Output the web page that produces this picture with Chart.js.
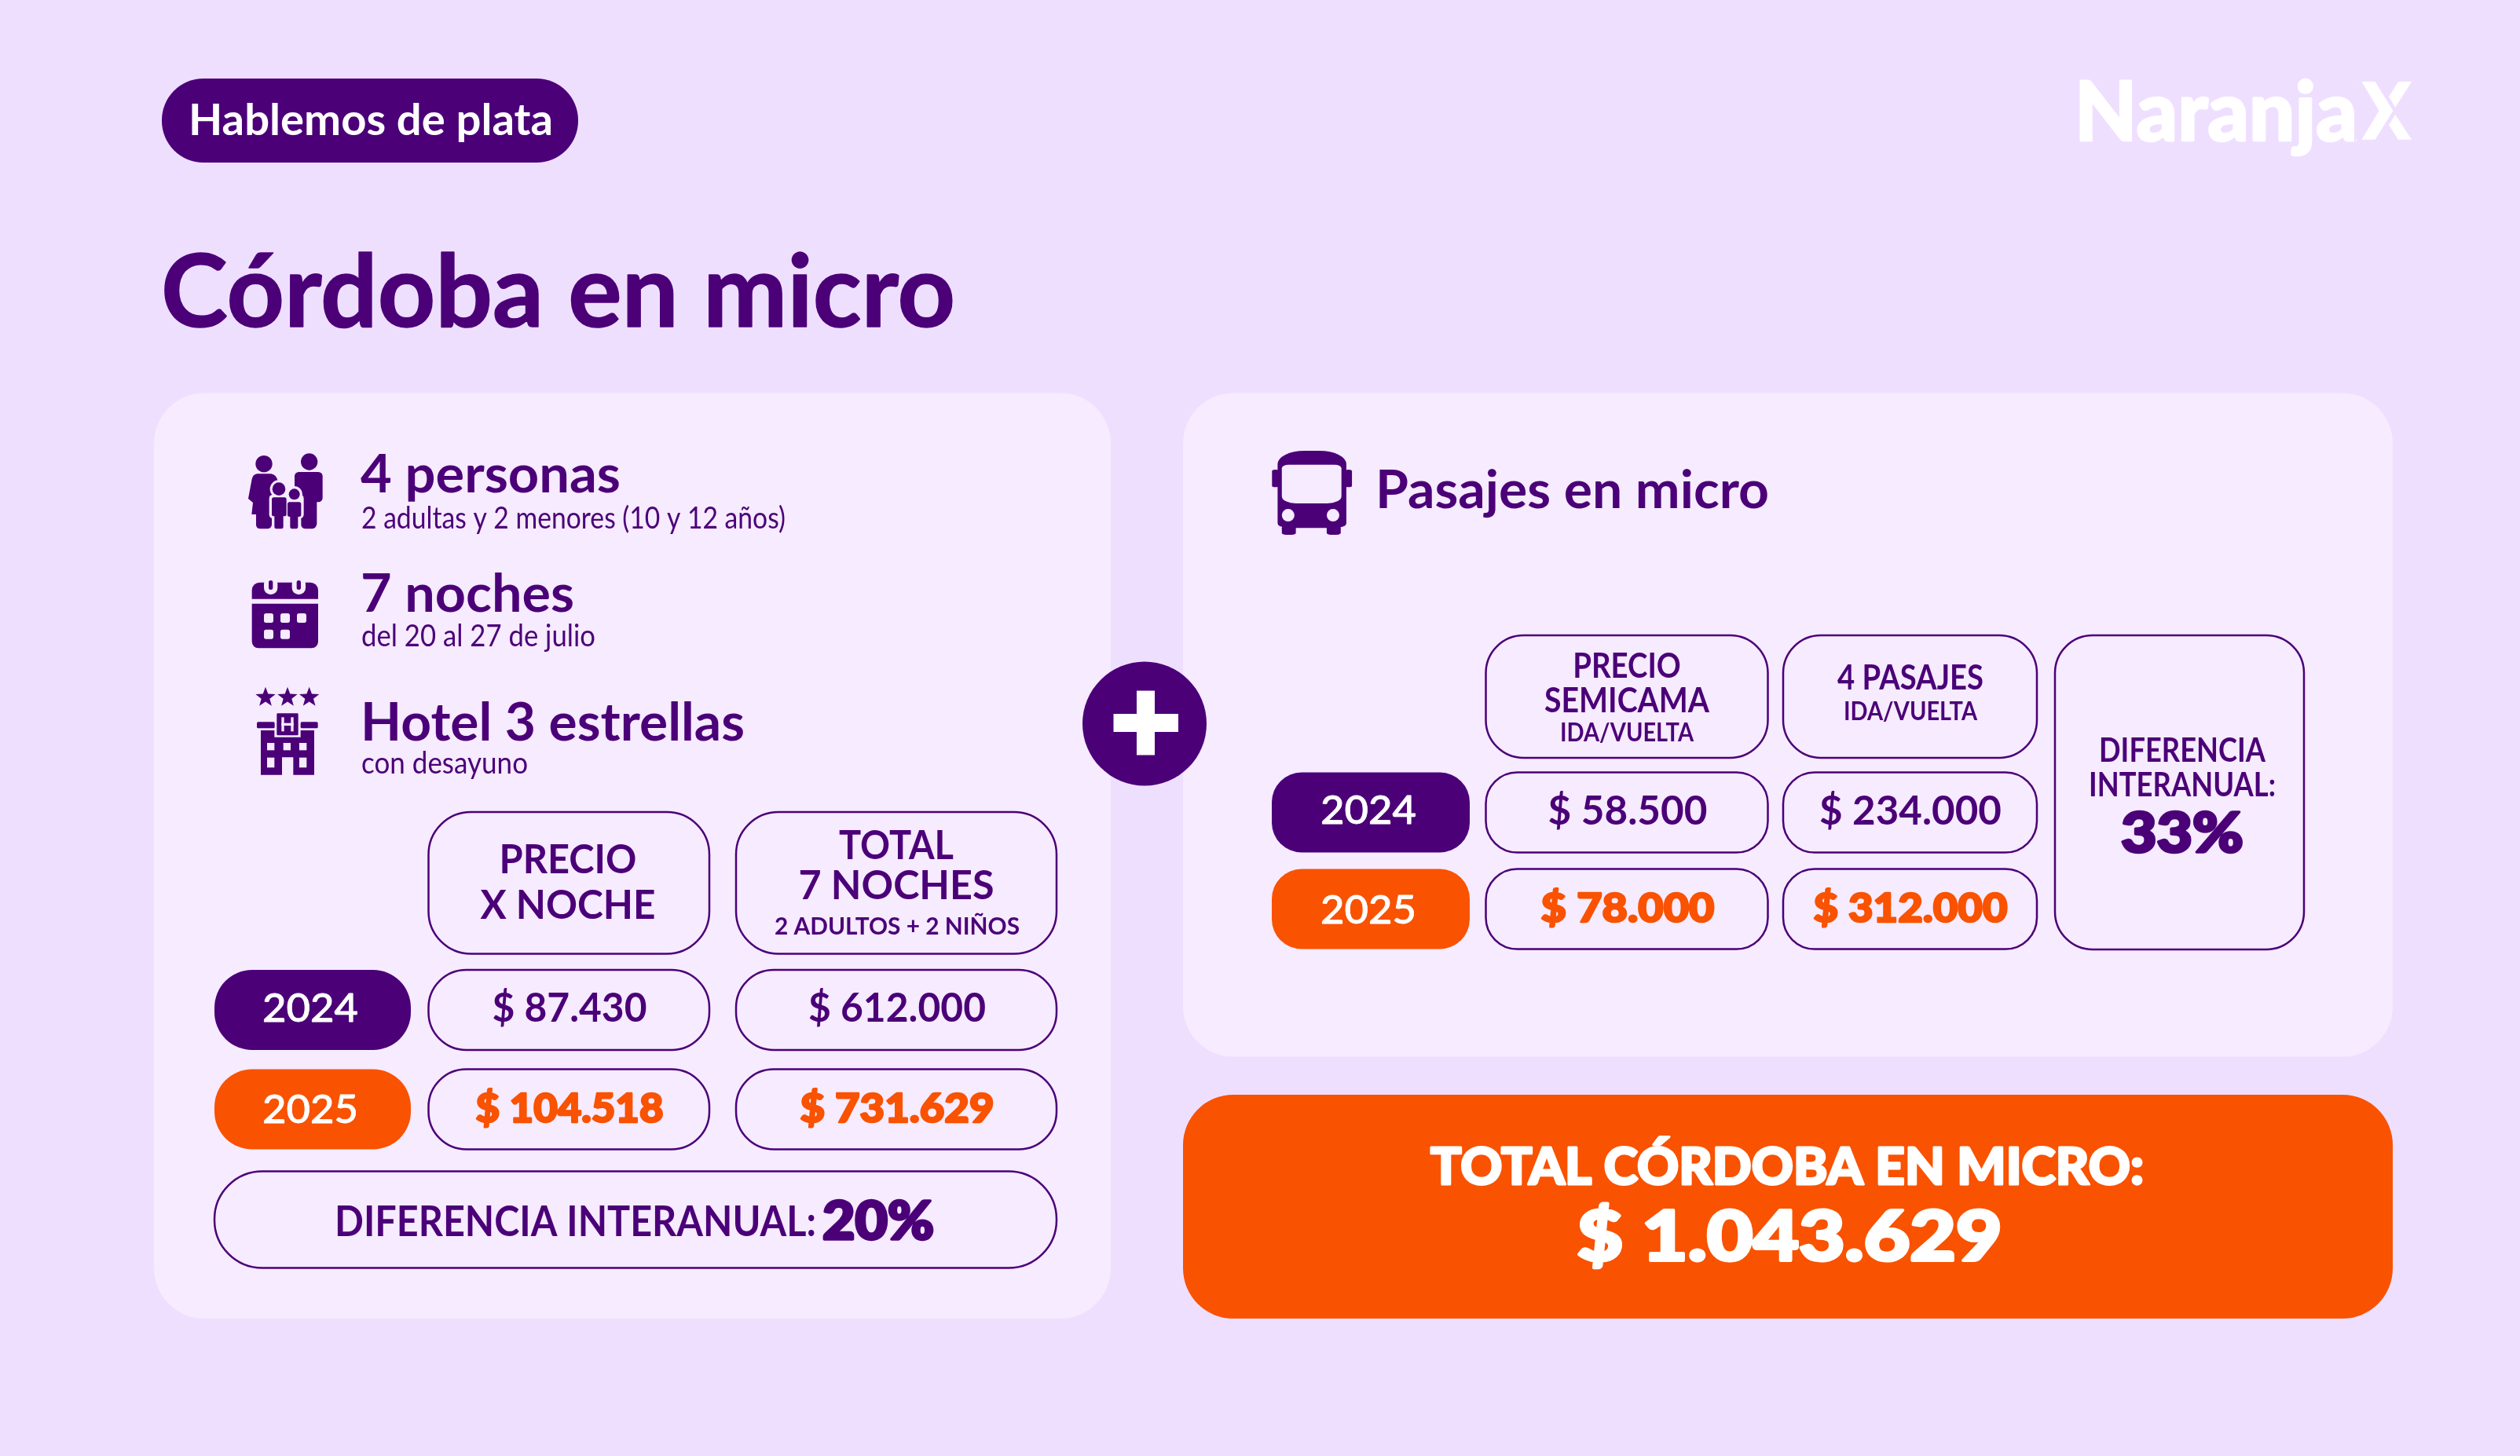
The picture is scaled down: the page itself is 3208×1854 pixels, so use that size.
<!DOCTYPE html>
<html lang="es"><head><meta charset="utf-8">
<script src="https://cdn.jsdelivr.net/npm/chart.js@4"></script>
<style>html,body{margin:0;padding:0;background:#EFDFFF}canvas{display:block}</style>
</head><body><canvas id="c" width="3208" height="1854" style="width:3208px;height:1854px"></canvas>
<script>
const years = ['2024', '2025'];
const precioNoche = [87430, 104518];
const totalNoches = [612000, 731629];
const precioSemicama = [58500, 78000];
const cuatroPasajes = [234000, 312000];
const diferenciaHotel = 20;
const diferenciaMicro = 33;
const totalViaje = 1043629;

const BG='#EFDFFF', PANEL='#F6EBFF', PUR='#4B0078', ORG='#F95200', WHITE='#FFFFFF';
const FONT='Lato, sans-serif';
const money = v => '$ ' + String(v).replace(/\B(?=(\d{3})+(?!\d))/g, '.');

function rr(c,x,y,w,h,r,fill,stroke,lw){
  c.beginPath(); c.roundRect(x,y,w,h,r);
  if(fill){c.fillStyle=fill;c.fill();}
  if(stroke){c.strokeStyle=stroke;c.lineWidth=lw||2.5;c.stroke();}
}
// text fitted to a measured width; align: 'c' centre at x, 'l' left at x
function tx(c,s,x,y,size,weight,color,width,align,bold){
  c.save();
  c.font=weight+' '+size+'px '+FONT; c.textBaseline='alphabetic'; c.textAlign='left';
  const w=c.measureText(s).width, k=width?width/w:1, W=w*k;
  c.translate(align==='l'?x:x-W/2,y); c.scale(k,1);
  c.fillStyle=color;
  if(bold){c.strokeStyle=color;c.lineWidth=bold;c.lineJoin='round';c.strokeText(s,0,0);}
  c.fillText(s,0,0);
  c.restore();
}
function poly(c,pts){c.beginPath();pts.forEach((p,i)=>i?c.lineTo(p[0],p[1]):c.moveTo(p[0],p[1]));c.closePath();}
function star(c,cx,cy,R){const p=[];for(let i=0;i<10;i++){const r=i%2?R*0.42:R,a=-Math.PI/2+i*Math.PI/5;p.push([cx+r*Math.cos(a),cy+r*Math.sin(a)]);}poly(c,p);c.fill();}

function iconFamily(c){
  c.save();c.translate(290,560);c.scale(1/3,1/3);c.fillStyle=PUR;
  c.beginPath();c.arc(138,92,32,0,7);c.fill();
  c.beginPath();c.arc(311,84,32,0,7);c.fill();
  c.beginPath();c.moveTo(112,130);c.lineTo(165,130);c.quadraticCurveTo(185,132,192,160);c.lineTo(200,285);c.lineTo(170,285);c.lineTo(168,325);c.quadraticCurveTo(166,340,150,340);c.lineTo(125,340);c.quadraticCurveTo(108,340,108,325);c.lineTo(108,285);c.lineTo(91,285);c.lineTo(96,240);c.lineTo(78,225);c.lineTo(92,150);c.quadraticCurveTo(96,132,112,130);c.closePath();c.fill();
  c.beginPath();c.roundRect(255,123,107,115,16);c.fill();
  c.beginPath();c.roundRect(278,200,62,140,20);c.fill();
  const kid=(hx,hy,hr,bx,by,bw,bh,lx,lw)=>{
    c.beginPath();c.arc(hx,hy,hr,0,7);c.fill();
    c.beginPath();c.roundRect(bx,by,bw,bh,8);c.fill();
    c.beginPath();c.roundRect(lx,by+bh-10,lw,340-(by+bh-10),7);c.fill();
  };
  c.fillStyle=PANEL;
  c.beginPath();c.arc(195,188,34,0,7);c.fill();c.beginPath();c.arc(254,208,31,0,7);c.fill();
  c.beginPath();c.roundRect(158,210,132,90,14);c.fill();
  c.beginPath();c.roundRect(168,285,112,60,10);c.fill();
  c.fillStyle=PUR;
  kid(195,188,25,168,220,56,72,178,34);
  kid(254,208,21,228,238,52,56,238,30);
  c.restore();
}
function iconCal(c){
  c.save();c.translate(290,560);c.scale(1/3,1/3);
  c.fillStyle=PUR;
  c.beginPath();c.roundRect(92,545,253,63,[30,30,0,0]);c.fill();
  c.beginPath();c.roundRect(92,626,253,170,[0,0,25,25]);c.fill();
  [164,271].forEach(x=>{rr(c,x-26,525,52,66,25,PANEL);rr(c,x-8,537,16,36,8,PUR);});
  [[138,663],[201,663],[264,663],[138,725],[201,725]].forEach(p=>rr(c,p[0],p[1],36,36,8,PANEL));
  c.restore();
}
function iconHotel(c){
  c.save();c.translate(290,560);c.scale(1/3,1/3);c.fillStyle=PUR;
  [144,228,311].forEach(x=>star(c,x,984,40));
  rr(c,111,1078,68,24,5,PUR);rr(c,278,1078,66,24,5,PUR);
  rr(c,187,1045,82,84,4,PUR);
  c.fillStyle=PANEL;c.fillRect(205,1060,10,54);c.fillRect(241,1060,10,54);c.fillRect(205,1082,46,10);
  c.fillStyle=PUR;
  poly(c,[[126,1110],[178,1110],[178,1136],[278,1136],[278,1110],[330,1110],[330,1280],[250,1280],[250,1213],[207,1213],[207,1280],[126,1280]]);c.fill();
  [[150,1158,28,28],[212,1158,28,28],[273,1158,28,28],[150,1214,28,38],[273,1214,28,38]].forEach(r=>{c.fillStyle=PANEL;c.fillRect(r[0],r[1],r[2],r[3]);});
  c.restore();
}
function iconBus(c){
  c.save();c.translate(1580,540);c.scale(1/1.12,1/2.24);
  rr(c,52,76,98,220,[38,38,14,14],PUR);
  rr(c,44,130,10,50,5,PUR);rr(c,148,130,10,50,5,PUR);
  rr(c,58,290,20,26,6,PUR);rr(c,122,290,20,26,6,PUR);
  rr(c,58,116,85,110,[10,10,20,20],PANEL);
  c.fillStyle=PANEL;
  c.beginPath();c.ellipse(67,260,9,18,0,0,7);c.fill();
  c.beginPath();c.ellipse(131,260,9,18,0,0,7);c.fill();
  c.restore();
}
function logo(c){
  // wordmark: real text, with the last letter replaced by the brand's split X
  c.save();
  c.beginPath();c.rect(2600,60,400,150);c.clip();
  c.font='900 104px '+FONT;
  const wa=c.measureText('Naranja').width,k=360/wa;
  c.translate(2641,179);c.scale(k,1);c.fillStyle=WHITE;c.strokeStyle=WHITE;c.lineWidth=2.5;c.lineJoin='round';
  c.strokeText('NaranjaX',0,0);
  c.fillText('NaranjaX',0,0);
  c.restore();
  c.save();c.translate(2560,60);c.scale(1/2.8,1/3);c.fillStyle=WHITE;
  poly(c,[[1250,132],[1298,132],[1362,243],[1298,353],[1250,353],[1312,243]]);c.fill();
  poly(c,[[1380,132],[1428,132],[1370,230],[1347,190]]);c.fill();
  poly(c,[[1370,258],[1428,353],[1380,353],[1347,297]]);c.fill();
  c.restore();
}

const infographic={id:'infographic',afterDraw(chart){
  const c=chart.ctx, D=chart.data.datasets;
  c.save();
  c.fillStyle=BG;c.fillRect(0,0,3208,1854);
  // header
  rr(c,206,100,530,107,53,PUR);
  tx(c,'Hablemos de plata',472,172,56,700,WHITE,464);
  tx(c,'Córdoba en micro',205,416,128,700,PUR,1011,'l',1.5);
  logo(c);
  // panels
  rr(c,196,500.5,1218,1178.5,64,PANEL);
  rr(c,1506,500.5,1540,845,64,PANEL);
  rr(c,1506,1394,1540,285,64,ORG);
  // plus
  c.fillStyle=PUR;c.beginPath();c.arc(1457,921.5,79,0,7);c.fill();
  c.fillStyle=WHITE;c.fillRect(1417.5,909,82.5,23);c.fillRect(1447,879.5,23,82);
  // left info
  iconFamily(c);iconCal(c);iconHotel(c);
  tx(c,'4 personas',459,627,67,700,PUR,331,'l');
  tx(c,'2 adultas y 2 menores (10 y 12 años)',460,673,38,400,PUR,540,'l');
  tx(c,'7 noches',459,779,67,700,PUR,272,'l');
  tx(c,'del 20 al 27 de julio',460,823,38,400,PUR,298,'l');
  tx(c,'Hotel 3 estrellas',459,942.5,67,700,PUR,489,'l');
  tx(c,'con desayuno',460,985,38,400,PUR,212,'l');
  // left table
  const L=[[545.5,357.5],[937,408]];
  L.forEach(a=>rr(c,a[0],1034,a[1],180.5,54,null,PUR));
  tx(c,'PRECIO',723,1112,51,700,PUR,175);
  tx(c,'X NOCHE',723,1169.5,51,700,PUR,223);
  tx(c,'TOTAL',1141,1094,51,700,PUR,146);
  tx(c,'7 NOCHES',1141,1144.5,51,700,PUR,249);
  tx(c,'2 ADULTOS + 2 NIÑOS',1142,1190,30,700,PUR,312);
  const rowsL=[[1235,102,1301,1301],[1361.5,102,1430,1428.5]];
  rowsL.forEach((r,i)=>{
    rr(c,273,r[0],250,r[1],48,i?ORG:PUR);
    tx(c,chart.data.labels[i],395,r[2],50,500,WHITE,122,'c',0.8);
    L.forEach(a=>rr(c,a[0],r[0],a[1],r[1],48,null,PUR));
    const col=i?ORG:PUR,w=i?900:700,b=i?2.5:0;
    tx(c,money(D[0].data[i]),725,r[3],52,w,col,i?239:197,'c',b);
    tx(c,money(D[1].data[i]),1142,r[3],52,w,col,i?247:226,'c',b);
  });
  rr(c,273,1491.5,1072,123,61,null,PUR);
  tx(c,'DIFERENCIA INTERANUAL:',426,1573.6,53,700,PUR,613,'l');
  tx(c,diferenciaHotel+'%',1047,1578,66,900,PUR,142,'l',3.5);
  // right
  iconBus(c);
  tx(c,'Pasajes en micro',1751,647,67,700,PUR,501,'l');
  const R=[[1891.5,359],[2270,323]];
  R.forEach(a=>rr(c,a[0],809,a[1],156,48,null,PUR));
  rr(c,2616,809,317,400,48,null,PUR);
  tx(c,'PRECIO',2071,863,44,700,PUR,137.5);
  tx(c,'SEMICAMA',2071,907,44,700,PUR,210);
  tx(c,'IDA/VUELTA',2071,944,33,700,PUR,170);
  tx(c,'4 PASAJES',2432,878,44,700,PUR,186);
  tx(c,'IDA/VUELTA',2432,917,33,700,PUR,170);
  const rowsR=[[983.5,102,1049,1050],[1106.5,102,1176,1174]];
  rowsR.forEach((r,i)=>{
    rr(c,1619,r[0],252,r[1],38,i?ORG:PUR);
    tx(c,chart.data.labels[i],1742,r[2],50,500,WHITE,122,'c',0.8);
    R.forEach(a=>rr(c,a[0],r[0],a[1],r[1],40,null,PUR));
    const col=i?ORG:PUR,w=i?900:700,b=i?2.5:0;
    tx(c,money(D[2].data[i]),2072,r[3],52,w,col,i?221:203,'c',b);
    tx(c,money(D[3].data[i]),2432,r[3],52,w,col,i?247:232,'c',b);
  });
  tx(c,'DIFERENCIA',2778,970,42,700,PUR,212);
  tx(c,'INTERANUAL:',2778,1014,42,700,PUR,238);
  tx(c,diferenciaMicro+'%',2778,1085,70,900,PUR,156,'c',3.5);
  // total
  tx(c,'TOTAL CÓRDOBA EN MICRO:',2275,1508,65,900,WHITE,908,'c',3);
  tx(c,money(totalViaje),2278,1605,88,900,WHITE,541,'c',4);
  c.restore();
}};

new Chart(document.getElementById('c'),{
  type:'bar',
  data:{labels:years,datasets:[
    {label:'Precio x noche',data:precioNoche,backgroundColor:'rgba(0,0,0,0)'},
    {label:'Total 7 noches',data:totalNoches,backgroundColor:'rgba(0,0,0,0)'},
    {label:'Precio semicama',data:precioSemicama,backgroundColor:'rgba(0,0,0,0)'},
    {label:'4 pasajes',data:cuatroPasajes,backgroundColor:'rgba(0,0,0,0)'}
  ]},
  options:{responsive:false,animation:false,devicePixelRatio:1,
    plugins:{legend:{display:false},tooltip:{enabled:false},title:{display:false}},
    scales:{x:{display:false},y:{display:false}}},
  plugins:[infographic]
});
</script></body></html>
